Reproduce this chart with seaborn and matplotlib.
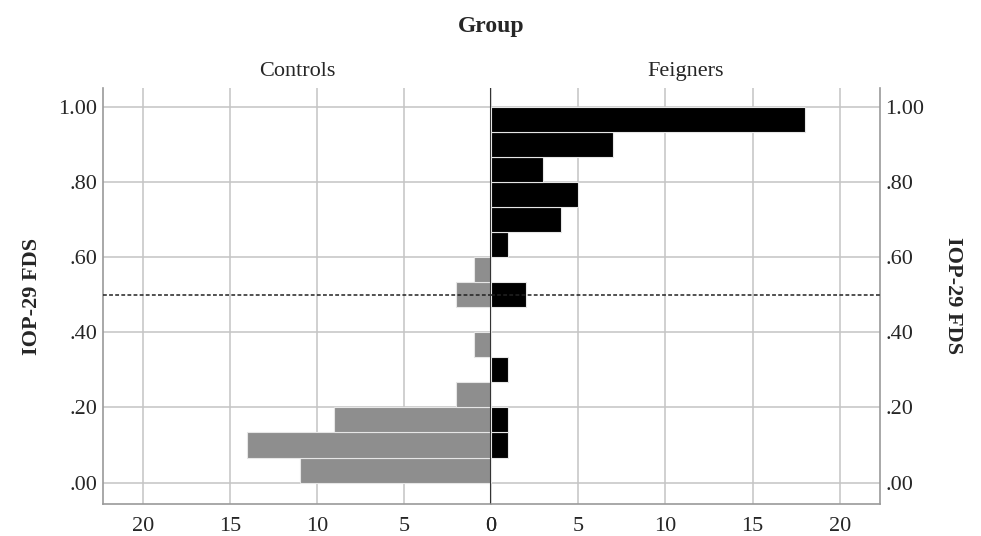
import numpy as np
import pandas as pd
import matplotlib
matplotlib.use("Agg")
import matplotlib.pyplot as plt
import seaborn as sns

# 15 bins of width 1/15 on IOP-29 FDS, counts
bin_edges = list(np.linspace(0, 1, 16))
bin_centers = [(a + b) / 2 for a, b in zip(bin_edges[:-1], bin_edges[1:])]
controls = [11, 14, 9, 2, 0, 1, 0, 2, 1, 0, 0, 0, 0, 0, 0]
feigners = [0, 1, 1, 0, 1, 0, 0, 2, 0, 1, 4, 5, 3, 7, 18]
groups = ["Controls", "Feigners"]
y_ticks = [0.0, 0.2, 0.4, 0.6, 0.8, 1.0]
y_ticklabels = [".00", ".20", ".40", ".60", ".80", "1.00"]
x_ticks = [0, 5, 10, 15, 20]
cutoff = 0.50

df = pd.DataFrame({
    "center": bin_centers * 2,
    "count": controls + feigners,
    "group": np.repeat(groups, len(bin_centers)),
})

sns.set_style("white")
plt.rcParams["font.family"] = ["Liberation Serif", "DejaVu Serif"]

fig = plt.figure(figsize=(9.81, 5.36), dpi=100)
ax_l = fig.add_axes([0.105, 0.0597, 0.3955, 0.776])
ax_r = fig.add_axes([0.5005, 0.0597, 0.3965, 0.776], sharey=ax_l)

colors = {"Controls": "#8e8e8e", "Feigners": "#000000"}
for ax, g in zip([ax_l, ax_r], groups):
    sub = df[df["group"] == g]
    sns.histplot(data=sub, y="center", weights="count", bins=bin_edges,
                 color=colors[g], alpha=1, edgecolor="#e6e6e6", linewidth=0.8,
                 ax=ax, zorder=3)
    ax.set_xlim(0, 22.3)
    ax.set_ylim(-0.057, 1.05)
    ax.set_xticks(x_ticks)
    ax.set_yticks(y_ticks)
    ax.grid(True, color="#c4c4c4", linewidth=1.1, zorder=0)
    ax.set_axisbelow(True)
    ax.tick_params(length=0, labelsize=16)
    ax.tick_params(axis="x", pad=9)
    ax.tick_params(axis="y", pad=4)
    ax.set_xlabel("")
    ax.set_ylabel("")
    ax.axhline(cutoff, color="#222222", linestyle=(0, (2.5, 1.5)), linewidth=1.1, zorder=4)
    ax.spines["top"].set_visible(False)
    for s in ["left", "right", "bottom"]:
        ax.spines[s].set_color("#9a9a9a")
        ax.spines[s].set_linewidth(1.2)
    ax.set_title(g, fontsize=16, pad=9)

ax_l.invert_xaxis()
ax_l.spines["right"].set_visible(False)
ax_l.set_yticklabels(y_ticklabels)
ax_l.axvline(0, color="#333333", linewidth=1.5, zorder=5)
ax_r.spines["left"].set_visible(False)
ax_r.yaxis.tick_right()
ax_r.tick_params(axis="y", labelright=True, labelleft=False)
ax_r.set_yticklabels(y_ticklabels)

ax_l.set_ylabel("IOP-29 FDS", fontsize=16, fontweight="bold", labelpad=12)
ax_r.yaxis.set_label_position("right")
ax_r.set_ylabel("IOP-29 FDS", fontsize=16, fontweight="bold", rotation=270, labelpad=28)

fig.text(0.5005, 0.950, "Group", ha="center", va="center", fontsize=17, fontweight="bold")

fig.savefig("out.png", dpi=100)
